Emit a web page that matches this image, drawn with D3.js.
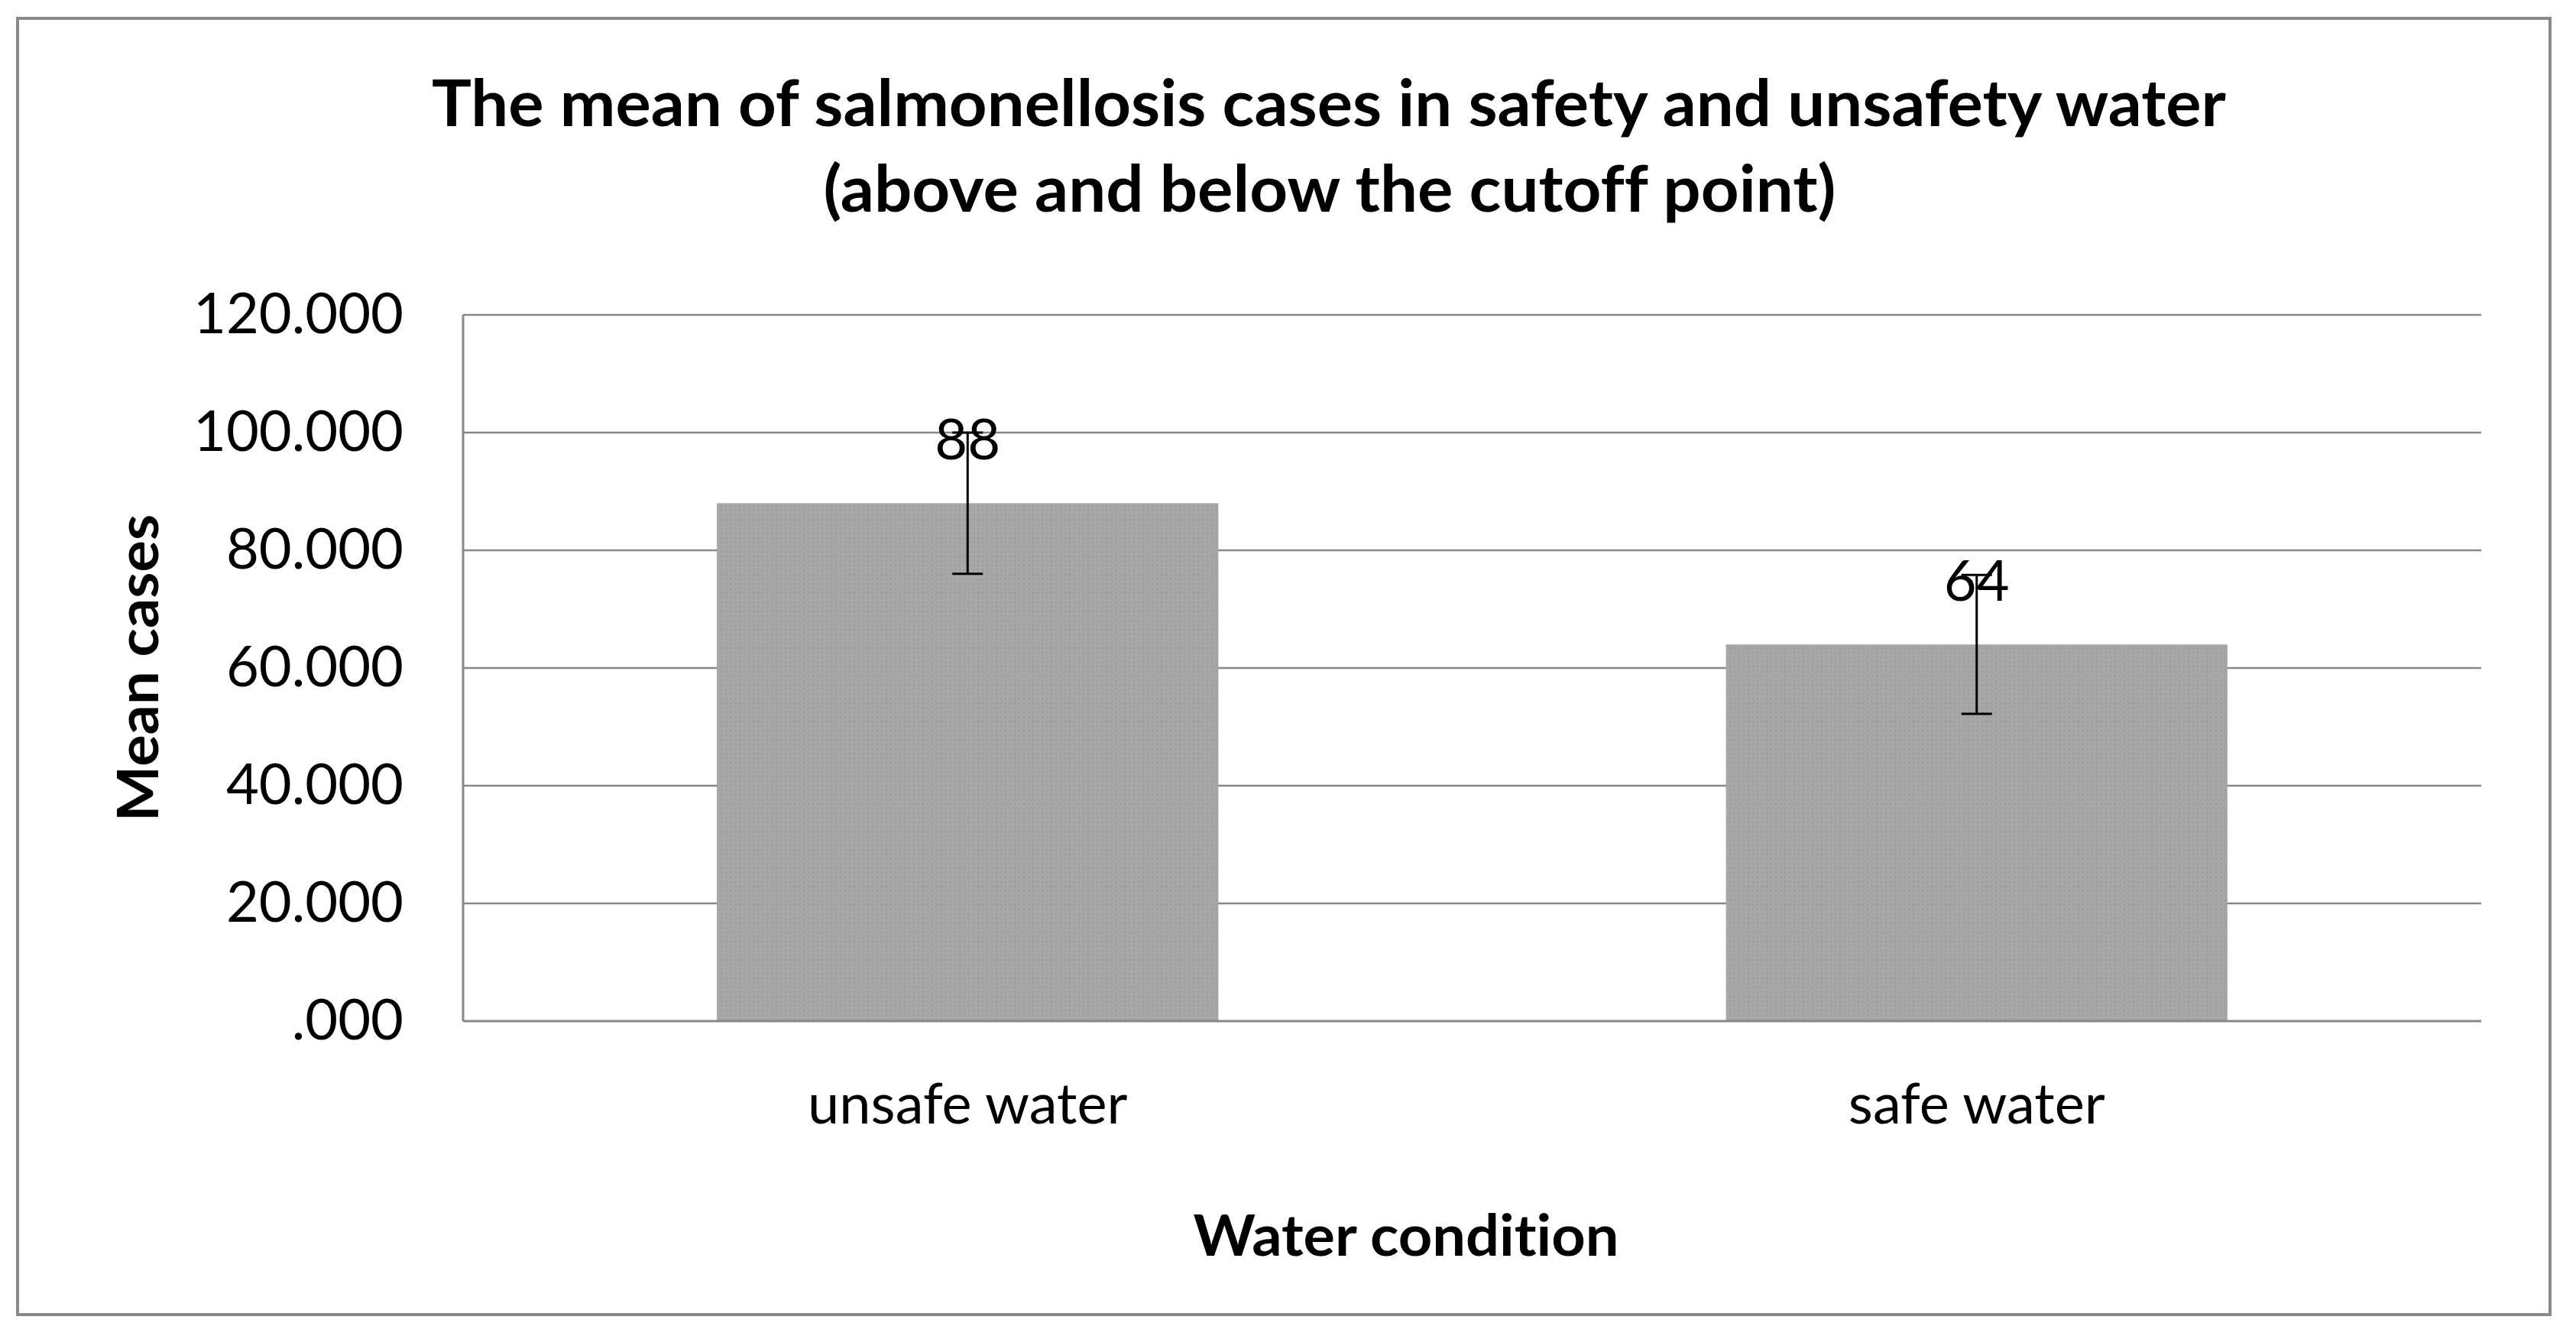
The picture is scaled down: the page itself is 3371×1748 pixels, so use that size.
<!DOCTYPE html>
<html>
<head>
<meta charset="utf-8">
<script src="https://cdn.jsdelivr.net/npm/d3@7"></script>
<style>
  html, body { margin: 0; padding: 0; background: #ffffff; }
  svg { display: block; }
  text { font-family: Lato, "Open Sans", "Noto Sans", sans-serif; fill: #000;
         font-variant-ligatures: none; font-feature-settings: "liga" 0, "clig" 0, "dlig" 0; }
</style>
</head>
<body>
<script>
// ---- data ----
const categories = ["unsafe water", "safe water"];
const means = [88, 64];
const errors = [12, 11.8];
const dataLabels = ["88", "64"];
const yTickValues = [0, 20, 40, 60, 80, 100, 120];
const yTickLabels = [".000", "20.000", "40.000", "60.000", "80.000", "100.000", "120.000"];
const titleLines = ["The mean of salmonellosis cases in safety and unsafety water", "(above and below the cutoff point)"];
const xAxisTitle = "Water condition";
const yAxisTitle = "Mean cases";

// ---- layout ----
const W = 3371, H = 1748;
const plot = { left: 606, right: 3247, top: 412, bottom: 1336 };

const svg = d3.select("body").append("svg").attr("width", W).attr("height", H);

// pattern for bar texture
const defs = svg.append("defs");
const pat = defs.append("pattern").attr("id", "dots").attr("width", 6).attr("height", 6)
  .attr("patternUnits", "userSpaceOnUse");
pat.append("rect").attr("width", 6).attr("height", 6).attr("fill", "#a7a7a7");
pat.append("rect").attr("x", 1).attr("y", 1).attr("width", 2).attr("height", 2).attr("fill", "#9c9c9c");

// outer border
svg.append("rect").attr("x", 23).attr("y", 24).attr("width", 3314).attr("height", 1696)
  .attr("fill", "#fff").attr("stroke", "#898989").attr("stroke-width", 4);

const x = d3.scaleBand().domain(categories).range([plot.left, plot.right])
  .paddingInner(0.503).paddingOuter(0.2515);
const y = d3.scaleLinear().domain([0, 120]).range([plot.bottom, plot.top]);

// gridlines
svg.append("g").selectAll("line").data(yTickValues.filter(v => v > 0)).join("line")
  .attr("x1", plot.left).attr("x2", plot.right)
  .attr("y1", d => y(d)).attr("y2", d => y(d))
  .attr("stroke", "#888888").attr("stroke-width", 2.5);

// y axis (labels)
const yAxis = d3.axisLeft(y).tickValues(yTickValues)
  .tickFormat((d, i) => yTickLabels[i]).tickSize(0).tickPadding(78);
const gy = svg.append("g").attr("transform", `translate(${plot.left},0)`).call(yAxis);
gy.select(".domain").remove();
gy.selectAll("text").attr("font-size", 74).attr("font-family", "Lato, sans-serif").attr("fill", "#000");

// bars
svg.append("g").selectAll("rect").data(means).join("rect")
  .attr("x", (d, i) => x(categories[i]))
  .attr("y", d => y(d))
  .attr("width", x.bandwidth())
  .attr("height", d => y(0) - y(d))
  .attr("fill", "url(#dots)");

// axis lines
svg.append("line").attr("x1", plot.left).attr("x2", plot.right)
  .attr("y1", y(0)).attr("y2", y(0)).attr("stroke", "#888888").attr("stroke-width", 3);
svg.append("line").attr("x1", plot.left).attr("x2", plot.left)
  .attr("y1", plot.top).attr("y2", y(0)).attr("stroke", "#888888").attr("stroke-width", 3);

// x axis labels
const xAxis = d3.axisBottom(x).tickSize(0).tickPadding(0);
const gx = svg.append("g").attr("transform", `translate(0,${plot.bottom})`).call(xAxis);
gx.select(".domain").remove();
gx.selectAll("text").attr("font-size", 74).attr("font-family", "Lato, sans-serif")
  .attr("fill", "#000").attr("dy", null).attr("y", 134);

// error bars
const eb = svg.append("g").attr("stroke", "#000").attr("stroke-width", 3);
means.forEach((m, i) => {
  const cx = x(categories[i]) + x.bandwidth() / 2;
  eb.append("line").attr("x1", cx).attr("x2", cx)
    .attr("y1", y(m + errors[i])).attr("y2", y(m - errors[i]));
  eb.append("line").attr("x1", cx - 20).attr("x2", cx + 20)
    .attr("y1", y(m + errors[i])).attr("y2", y(m + errors[i]));
  eb.append("line").attr("x1", cx - 20).attr("x2", cx + 20)
    .attr("y1", y(m - errors[i])).attr("y2", y(m - errors[i]));
});

// data labels
svg.append("g").selectAll("text").data(means).join("text")
  .attr("x", (d, i) => x(categories[i]) + x.bandwidth() / 2)
  .attr("y", d => y(d) - 57)
  .attr("text-anchor", "middle")
  .attr("font-size", 74)
  .text((d, i) => dataLabels[i]);

// title
svg.append("text").attr("x", 1739).attr("y", 165).attr("text-anchor", "middle")
  .attr("font-size", 84).attr("font-weight", "bold")
  .attr("textLength", 2348).attr("lengthAdjust", "spacingAndGlyphs")
  .text(titleLines[0]);
svg.append("text").attr("x", 1740).attr("y", 277).attr("text-anchor", "middle")
  .attr("font-size", 84).attr("font-weight", "bold")
  .attr("textLength", 1325).attr("lengthAdjust", "spacingAndGlyphs")
  .text(titleLines[1]);

// axis titles
svg.append("text").attr("x", 1840).attr("y", 1643).attr("text-anchor", "middle")
  .attr("font-size", 74).attr("font-weight", "bold")
  .attr("textLength", 557).attr("lengthAdjust", "spacingAndGlyphs")
  .text(xAxisTitle);
svg.append("text").attr("transform", "translate(207,874) rotate(-90)")
  .attr("text-anchor", "middle")
  .attr("font-size", 74).attr("font-weight", "bold")
  .attr("textLength", 402).attr("lengthAdjust", "spacingAndGlyphs")
  .text(yAxisTitle);
</script>
</body>
</html>
